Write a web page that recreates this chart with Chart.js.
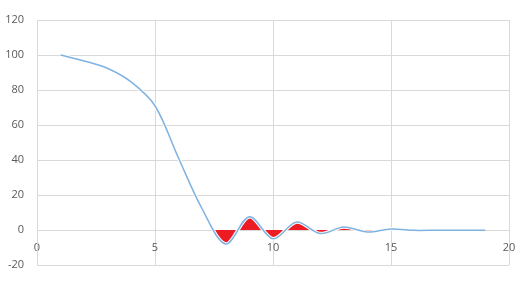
<!DOCTYPE html>
<html><head><meta charset="utf-8">
<script src="https://cdn.jsdelivr.net/npm/chart.js@4"></script>
<style>html,body{margin:0;padding:0;background:#fff}#wrap{width:528px;height:286px;position:relative}</style>
</head><body><div id="wrap"><canvas id="c"></canvas></div>
<script>
const xValues = [1, 2, 3, 4, 5, 6, 7, 8, 9, 10, 11, 12, 13, 14, 15, 16, 17, 18, 19];
const yValues = [100, 96.6, 92.3, 84.5, 71, 41, 12, -8, 7.6, -5, 4.6, -2, 1.7, -1.2, 0.6, -0.2, -0.1, -0.1, -0.1];
const xTicks = [0, 5, 10, 15, 20];
const yTicks = [-20, 0, 20, 40, 60, 80, 100, 120];
const fillStartX = 7.5;

const points = xValues.map((x, i) => ({x: x, y: yValues[i]}));
const gridColor = '#d9d9d9';
const labelColor = '#595959';
const font = {family: "'Open Sans', 'Liberation Sans', sans-serif", size: 11};

function redFill(ctx) {
  const chart = ctx.chart;
  const area = chart.chartArea;
  const xs = chart.scales && chart.scales.x;
  if (!area || !xs) return 'rgba(0,0,0,0)';
  const p = xs.getPixelForValue(fillStartX);
  const g = chart.ctx.createLinearGradient(area.left, 0, area.right, 0);
  const s = Math.min(Math.max((p - area.left) / (area.right - area.left), 0), 1);
  g.addColorStop(0, 'rgba(237,28,36,0)');
  g.addColorStop(s, 'rgba(237,28,36,0)');
  g.addColorStop(Math.min(s + 0.0005, 1), '#ed1c24');
  g.addColorStop(1, '#ed1c24');
  return g;
}

new Chart(document.getElementById('c'), {
  type: 'scatter',
  data: {
    datasets: [
      {
        data: points,
        showLine: true,
        borderColor: '#7fb2e0',
        borderWidth: 1.5,
        pointRadius: 0,
        tension: 0.33,
        fill: false
      },
      {
        data: points,
        showLine: true,
        borderColor: '#ffffff',
        borderWidth: 3.5,
        pointRadius: 0,
        tension: 0.33,
        backgroundColor: redFill,
        fill: {target: 'origin'}
      }
    ]
  },
  options: {
    responsive: true,
    maintainAspectRatio: false,
    animation: false,
    devicePixelRatio: 1,
    layout: {padding: {left: 0, top: 20, right: 19, bottom: 21}},
    plugins: {legend: {display: false}, tooltip: {enabled: false}},
    scales: {
      x: {
        type: 'linear',
        min: 0, max: 20,
        position: {y: 0},
        afterBuildTicks: s => { s.ticks = xTicks.map(v => ({value: v})); },
        ticks: {color: labelColor, font: font, padding: 11, maxRotation: 0},
        grid: {color: gridColor, drawTicks: false},
        border: {color: gridColor}
      },
      y: {
        type: 'linear',
        min: -20, max: 120,
        afterBuildTicks: s => { s.ticks = yTicks.map(v => ({value: v})); },
        afterFit: s => { s.width = 37; },
        ticks: {color: labelColor, font: font, padding: 13},
        grid: {color: gridColor, drawTicks: false},
        border: {color: gridColor}
      }
    }
  }
});
</script>
</body></html>
